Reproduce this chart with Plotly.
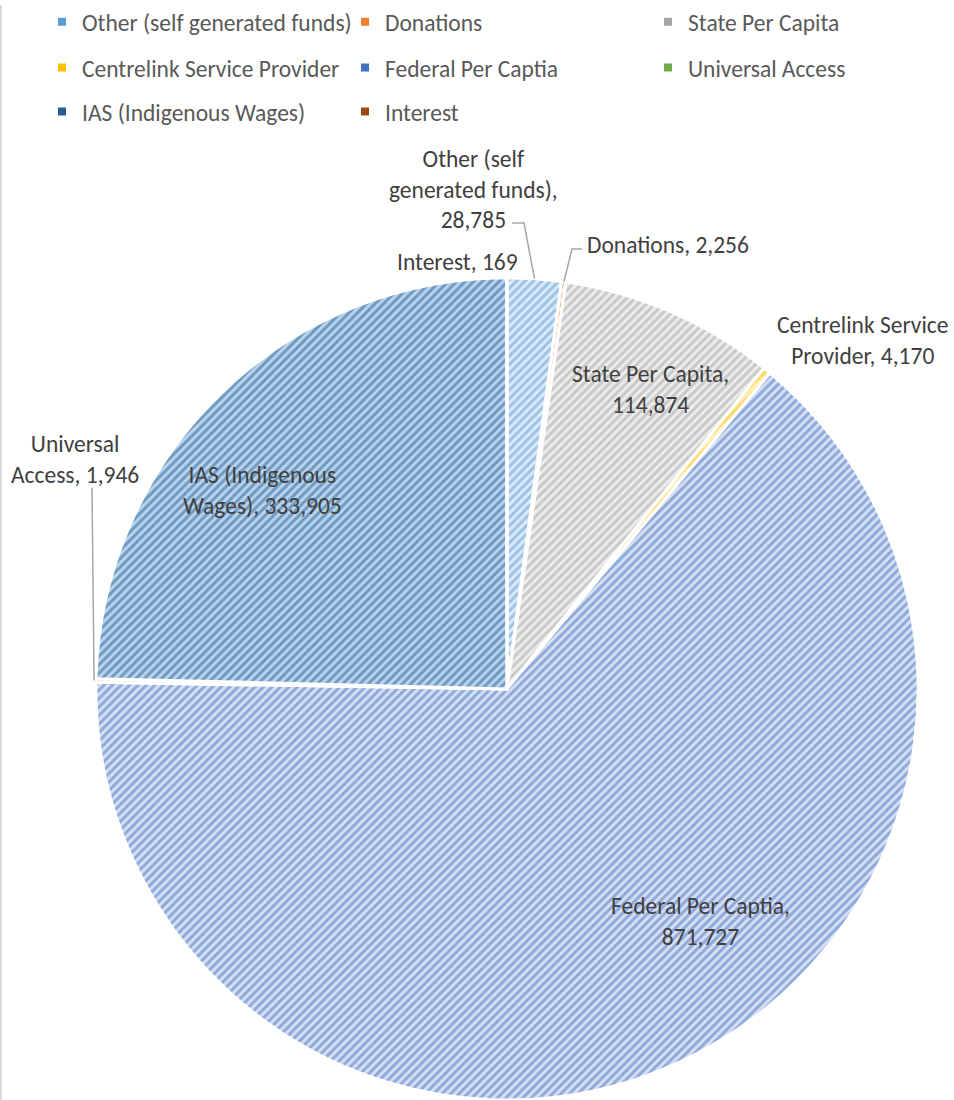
import math
import textwrap
import plotly.graph_objects as go

# ---------------- data ----------------
labels = ["Other (self generated funds)", "Donations", "State Per Capita",
          "Centrelink Service Provider", "Federal Per Captia", "Universal Access",
          "IAS (Indigenous Wages)", "Interest"]
values = [28785, 2256, 114874, 4170, 871727, 1946, 333905, 169]

# ---------------- style ----------------
fg_colors = ["#5B9BD5", "#ED7D31", "#A5A5A5", "#FFC000", "#4472C4", "#70AD47", "#255E91", "#9E480E"]
bg_colors = ["#DCE9F6", "#FBE3D3", "#EDEDED", "#FFF0C2", "#D7E0F3", "#E0EFD6", "#BAD4EE", "#EFD2BF"]

W, H = 954, 1100
R = 413                 # pie radius in px (domain height limited)
CX, CY = 507, H - R     # pie centre in px
FONT = "Carlito, Calibri, Lato, sans-serif"
FS = 23.5
TXT = "#404040"

# label layout (centre of text block in px, wrap width)
label_pos = [(473, 185), (668, 241), (650, 386), (862, 337),
             (700, 921), (75, 457), (262, 488), (457, 258)]
wrap_w = [17, 30, 17, 18, 19, 13, 16, 30]
# leader lines: (start px, elbow px) -> slice edge; None if no leader
leaders = [((512, 219), (524, 219)), ((582, 245), (572, 245)), None, None,
           None, ((92, 485), (92, 486)), None, None]
# legend rows (top y px) and columns
legend_rows = [-5, 41, 85]
per_row = 3
legend_x = 42


def to_paper(x, y):
    return x / W, 1 - y / H


fig = go.Figure()
fig.add_trace(go.Pie(
    labels=labels, values=values, sort=False, direction="clockwise", rotation=0,
    textinfo="none", hoverinfo="label+value", showlegend=False,
    domain=dict(x=[(CX - R) / W, (CX + R) / W], y=[0, 2 * R / H]),
    marker=dict(colors=bg_colors,
                line=dict(color="white", width=3),
                pattern=dict(shape="/", size=6, solidity=0.5,
                             fgcolor=fg_colors, fillmode="overlay")),
))

# legend entries (one per category), laid out in three rows like the original
legend_names = ["legend", "legend2", "legend3"]
for i, lab in enumerate(labels):
    fig.add_trace(go.Scatter(
        x=[None], y=[None], mode="markers", name=lab,
        marker=dict(symbol="square", size=8, color=fg_colors[i]),
        legend=legend_names[i // per_row], hoverinfo="skip",
    ))

# slice mid angles from the data
total = sum(values)
cum = 0
mids = []
for v in values:
    mids.append((cum + v / 2) / total * 2 * math.pi)
    cum += v

annotations = []
shapes = []
for i, (lab, val) in enumerate(zip(labels, values)):
    txt = "<br>".join(textwrap.wrap(f"{lab}, {val:,}", width=wrap_w[i]))
    px, py = label_pos[i]
    ax, ay = to_paper(px, py)
    annotations.append(dict(x=ax, y=ay, xref="paper", yref="paper", text=txt,
                            showarrow=False, align="center",
                            xanchor="center", yanchor="middle",
                            font=dict(family=FONT, size=FS, color=TXT)))
    if leaders[i] is not None:
        (sx, sy), (ex, ey) = leaders[i]
        edge_x = CX + R * math.sin(mids[i])
        edge_y = CY - R * math.cos(mids[i])
        pts = [(sx, sy), (ex, ey), (edge_x, edge_y)]
        path = "M " + " L ".join(f"{to_paper(x, y)[0]:.5f},{to_paper(x, y)[1]:.5f}" for x, y in pts)
        shapes.append(dict(type="path", path=path, xref="paper", yref="paper",
                           line=dict(color="#A6A6A6", width=1.5)))

# thin chart-area border on the left edge
shapes.append(dict(type="line", xref="paper", yref="paper", x0=0.001, x1=0.001, y0=0, y1=1,
                   line=dict(color="#D9D9D9", width=2)))

leg_common = dict(orientation="h", xanchor="left", yanchor="top",
                  entrywidth=258, entrywidthmode="pixels",
                  bgcolor="rgba(0,0,0,0)",
                  font=dict(family=FONT, size=FS, color="#595959"),
                  traceorder="normal")

fig.update_layout(
    width=W, height=H,
    margin=dict(l=0, r=0, t=0, b=0),
    paper_bgcolor="white", plot_bgcolor="white",
    font=dict(family=FONT, size=FS, color="#595959"),
    showlegend=True,
    xaxis=dict(visible=False), yaxis=dict(visible=False),
    legend=dict(x=legend_x / W, y=1 - legend_rows[0] / H, **leg_common),
    legend2=dict(x=legend_x / W, y=1 - legend_rows[1] / H, **leg_common),
    legend3=dict(x=legend_x / W, y=1 - legend_rows[2] / H, **leg_common),
    annotations=annotations,
    shapes=shapes,
)

fig.write_html("out.html", config={"displayModeBar": False},
               post_script="document.body.style.margin='0';")
